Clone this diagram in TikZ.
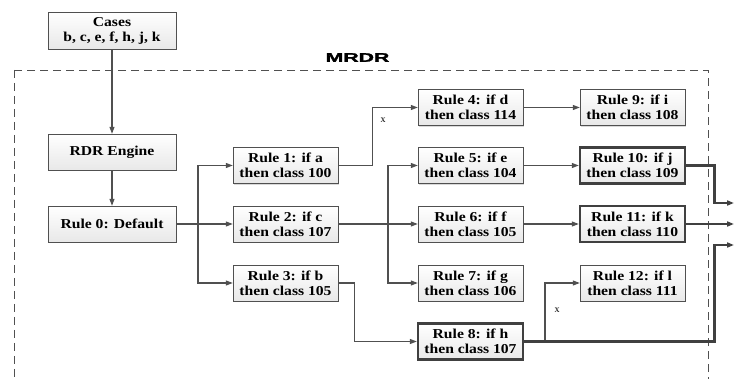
\documentclass[tikz,border=0pt]{standalone}
\usepackage{fontspec}
\setmainfont{Liberation Serif}
\newfontfamily\boxfont{Liberation Serif Bold}[FakeStretch=1.15]
\newfontfamily\titlefont{Liberation Sans Bold}[FakeBold=1.6]
\usetikzlibrary{arrows.meta, shadows}
\definecolor{linegray}{RGB}{80,80,80}

\begin{document}
\begin{tikzpicture}[x=1pt, y=-1pt, >={Triangle[length=7pt,width=5pt]},
    rulebox/.style={draw=linegray, top color=white, bottom color=gray!18,
      minimum width=105pt, minimum height=36pt, inner sep=1pt, align=center,
      font=\boxfont\fontsize{13.6}{15}\selectfont,
      drop shadow={shadow xshift=1.2pt, shadow yshift=-1.2pt, opacity=0.3}},
    keybox/.style={rulebox, draw=black!75, line width=2.4pt},
    link/.style={draw=linegray, line width=1.1pt},
    hotlink/.style={draw=black!75, line width=2.6pt},
    zone/.style={draw=linegray, line width=0.9pt, dash pattern=on 8pt off 5pt}]
  \useasboundingbox (0,0) rectangle (734,379);
  % MRDR region
  \draw[zone] (14,70) rectangle (708,420);
  \node[font=\titlefont\fontsize{12.5}{12.5}\selectfont] (title) at (357.5,57.5) {\scalebox{1.7}[1]{MRDR}};
  % Nodes
  \node[rulebox, minimum width=128pt, minimum height=37pt] (cases) at (112,30.5) {Cases\\b, c, e, f, h, j, k};
  \node[rulebox, minimum width=128pt] (engine) at (112,152)   {RDR Engine};
  \node[rulebox, minimum width=128pt] (rule0)  at (112,224)   {Rule 0: Default};
  \node[rulebox] (rule1)  at (285.5,165.5) {Rule 1: if a\\then class 100};
  \node[rulebox] (rule2)  at (285.5,224)   {Rule 2: if c\\then class 107};
  \node[rulebox] (rule3)  at (285.5,283)   {Rule 3: if b\\then class 105};
  \node[rulebox] (rule4)  at (470.5,107.5) {Rule 4: if d\\then class 114};
  \node[rulebox] (rule5)  at (470.5,165.5) {Rule 5: if e\\then class 104};
  \node[rulebox] (rule6)  at (470.5,224)   {Rule 6: if f\\then class 105};
  \node[rulebox] (rule7)  at (470.5,283)   {Rule 7: if g\\then class 106};
  \node[keybox]  (rule8)  at (470.5,341.5) {Rule 8: if h\\then class 107};
  \node[rulebox] (rule9)  at (632.5,107.5) {Rule 9: if i\\then class 108};
  \node[keybox]  (rule10) at (632.5,165.5) {Rule 10: if j\\then class 109};
  \node[keybox]  (rule11) at (632.5,224)   {Rule 11: if k\\then class 110};
  \node[rulebox] (rule12) at (632.5,283)   {Rule 12: if l\\then class 111};
  \coordinate (fork0) at (198,224);
  \coordinate (fork2) at (388,224);
  \coordinate (fork8) at (545,341.5);
  \coordinate (out1) at (734,203);
  \coordinate (out2) at (734,224);
  \coordinate (out3) at (734,245);
  % Connectors
  \draw[link,->] (cases) -- (engine);
  \draw[link,->] (engine) -- (rule0);
  \draw[link,->] (rule0) -- (rule2);
  \draw[link,->] (fork0) |- (rule1);
  \draw[link,->] (fork0) |- (rule3);
  \draw[link,->] (rule1.east) -- ++(34,0) |- (rule4);
  \node[font=\fontsize{10}{10}\selectfont] (x1) at (383,120) {x};
  \draw[link,->] (rule2) -- (rule6);
  \draw[link,->] (fork2) |- (rule5);
  \draw[link,->] (fork2) |- (rule7);
  \draw[link,->] (rule3.east) -- ++(16,0) |- (rule8);
  \draw[link,->] (rule4) -- (rule9);
  \draw[link,->] (rule5) -- (rule10);
  \draw[link,->] (rule6) -- (rule11);
  \draw[link,->] (fork8) |- (rule12);
  \node[font=\fontsize{10}{10}\selectfont] (x2) at (557,310) {x};
  % Wrong conclusions leaving MRDR
  \draw[hotlink,->] (rule10.east) -- ++(28,0) |- (out1);
  \draw[hotlink,->] (rule11) -- (out2);
  \draw[hotlink,->] (rule8.east) -- ++(190,0) |- (out3);
\end{tikzpicture}
\end{document}
